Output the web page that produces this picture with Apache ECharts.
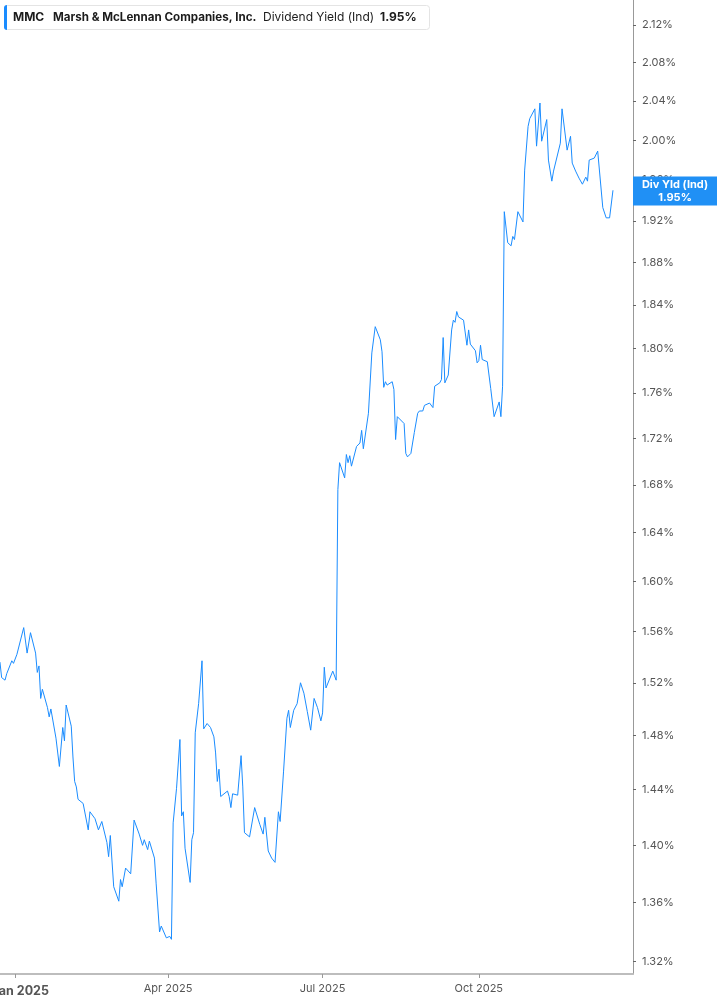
<!DOCTYPE html>
<html><head><meta charset="utf-8">
<script src="https://cdn.jsdelivr.net/npm/echarts@6/dist/echarts.min.js"></script>
<style>html,body{margin:0;padding:0;background:#fff}#c{width:717px;height:1005px}</style>
</head><body><div id="c"></div>
<script>
const dates = ['2024-12-23','2024-12-24','2024-12-26','2024-12-27','2024-12-30','2024-12-31','2025-01-02','2025-01-03','2025-01-06','2025-01-08',
'2025-01-10','2025-01-13','2025-01-14','2025-01-15','2025-01-16','2025-01-17','2025-01-20','2025-01-21','2025-01-22','2025-01-23',
'2025-01-25','2025-01-27','2025-01-29','2025-01-30','2025-01-31','2025-02-03','2025-02-04','2025-02-05','2025-02-06','2025-02-07',
'2025-02-10','2025-02-11','2025-02-13','2025-02-14','2025-02-17','2025-02-19','2025-02-21','2025-02-24','2025-02-25','2025-02-26',
'2025-02-28','2025-03-03','2025-03-04','2025-03-05','2025-03-07','2025-03-10','2025-03-12','2025-03-13','2025-03-15','2025-03-17',
'2025-03-18','2025-03-20','2025-03-21','2025-03-24','2025-03-25','2025-03-27','2025-03-28','2025-03-31','2025-04-02','2025-04-03',
'2025-04-04','2025-04-06','2025-04-08','2025-04-09','2025-04-10','2025-04-11','2025-04-14','2025-04-15','2025-04-16','2025-04-17',
'2025-04-19','2025-04-21','2025-04-22','2025-04-24','2025-04-26','2025-04-28','2025-04-29','2025-04-30','2025-05-01','2025-05-02',
'2025-05-06','2025-05-07','2025-05-08','2025-05-09','2025-05-12','2025-05-14','2025-05-15','2025-05-16','2025-05-19','2025-05-22',
'2025-05-25','2025-05-27','2025-05-28','2025-05-30','2025-06-01','2025-06-03','2025-06-05','2025-06-06','2025-06-08','2025-06-10',
'2025-06-11','2025-06-12','2025-06-14','2025-06-16','2025-06-18','2025-06-20','2025-06-22','2025-06-24','2025-06-26','2025-06-27',
'2025-06-28','2025-06-30','2025-07-01','2025-07-02','2025-07-03','2025-07-07','2025-07-08','2025-07-09','2025-07-10','2025-07-11',
'2025-07-14','2025-07-15','2025-07-16','2025-07-17','2025-07-18','2025-07-21','2025-07-22','2025-07-23','2025-07-24','2025-07-25',
'2025-07-28','2025-07-30','2025-08-01','2025-08-04','2025-08-05','2025-08-06','2025-08-07','2025-08-08','2025-08-11','2025-08-12',
'2025-08-13','2025-08-14','2025-08-18','2025-08-19','2025-08-20','2025-08-22','2025-08-24','2025-08-26','2025-08-27','2025-08-29',
'2025-08-30','2025-09-02','2025-09-03','2025-09-04','2025-09-05','2025-09-08','2025-09-09','2025-09-10','2025-09-11','2025-09-13',
'2025-09-15','2025-09-16','2025-09-17','2025-09-18','2025-09-19','2025-09-22','2025-09-24','2025-09-25','2025-09-26','2025-09-29',
'2025-09-30','2025-10-01','2025-10-02','2025-10-03','2025-10-06','2025-10-08','2025-10-10','2025-10-13','2025-10-14','2025-10-15',
'2025-10-16','2025-10-18','2025-10-20','2025-10-21','2025-10-22','2025-10-24','2025-10-27','2025-10-28','2025-10-30','2025-10-31',
'2025-11-03','2025-11-04','2025-11-06','2025-11-07','2025-11-10','2025-11-11','2025-11-13','2025-11-14','2025-11-18','2025-11-19',
'2025-11-22','2025-11-24','2025-11-25','2025-11-27','2025-11-29','2025-12-01','2025-12-03','2025-12-04','2025-12-05','2025-12-08',
'2025-12-10','2025-12-13','2025-12-15','2025-12-17','2025-12-19'];

const yields = [1.536,1.524,1.522,1.527,1.537,1.535,1.542,1.543,1.563,1.543,
1.559,1.543,1.528,1.533,1.508,1.515,1.501,1.494,1.500,1.499,
1.478,1.457,1.486,1.476,1.503,1.487,1.464,1.446,1.442,1.433,
1.430,1.429,1.411,1.424,1.419,1.411,1.417,1.402,1.392,1.407,
1.371,1.361,1.376,1.371,1.384,1.380,1.418,1.417,1.408,1.400,
1.404,1.397,1.403,1.391,1.373,1.340,1.344,1.336,1.337,1.335,
1.416,1.441,1.477,1.421,1.424,1.398,1.374,1.404,1.409,1.482,
1.504,1.537,1.485,1.489,1.486,1.479,1.467,1.446,1.455,1.435,
1.439,1.435,1.427,1.437,1.436,1.465,1.442,1.409,1.406,1.427,
1.415,1.408,1.420,1.396,1.391,1.388,1.424,1.417,1.453,1.493,
1.499,1.486,1.499,1.504,1.520,1.512,1.498,1.484,1.508,1.508,
1.501,1.491,1.497,1.532,1.516,1.529,1.529,1.522,1.676,1.699,
1.686,1.706,1.699,1.705,1.696,1.713,1.712,1.716,1.727,1.711,
1.742,1.796,1.820,1.808,1.797,1.765,1.770,1.767,1.770,1.763,
1.719,1.739,1.733,1.707,1.704,1.707,1.725,1.742,1.744,1.744,
1.749,1.751,1.752,1.747,1.766,1.769,1.772,1.810,1.769,1.776,
1.817,1.826,1.824,1.834,1.829,1.826,1.803,1.817,1.804,1.798,
1.787,1.789,1.803,1.790,1.788,1.764,1.739,1.752,1.739,1.766,
1.929,1.899,1.896,1.905,1.902,1.929,1.919,1.970,2.014,2.022,
2.032,1.994,2.038,1.999,2.021,1.980,1.959,1.969,1.997,2.032,
1.990,2.004,1.977,1.969,1.962,1.956,1.963,1.959,1.980,1.982,
1.989,1.933,1.923,1.923,1.950];

const yTicks = [1.32,1.36,1.40,1.44,1.48,1.52,1.56,1.60,1.64,1.68,1.72,1.76,1.80,1.84,1.88,1.92,1.96,2.00,2.04,2.08,2.12];
const xTickDates = ['2025-01-01','2025-04-01','2025-07-01','2025-10-01'];
const xTickLabels = ['Jan 2025','Apr 2025','Jul 2025','Oct 2025'];
const ticker = 'MMC';
const company = 'Marsh & McLennan Companies, Inc.';
const metric = 'Dividend Yield (Ind)';
const shortMetric = 'Div Yld (Ind)';
const lastYield = 1.95;
const yRange = [1.3118, 2.147];
const xRange = ['2024-12-23T01:00:00', '2025-12-30T19:00:00'];

const ts = s => new Date(s.length === 10 ? s + 'T00:00:00' : s).getTime();
const xTickTs = xTickDates.map(ts);
const lineData = dates.map((d, i) => [ts(d), Math.log(yields[i])]);
const yTickLog = yTicks.map(Math.log);
const BLUE = '#1a8cff';
const FONT = 'Inter';

const chart = echarts.init(document.getElementById('c'), null, {renderer: 'canvas'});
chart.setOption({
  animation: false,
  backgroundColor: '#fff',
  title: {
    left: 4, top: 5, padding: [0, 5, 0, 0],
    borderColor: '#e4e4e4', borderWidth: 1, borderRadius: 3,
    backgroundColor: '#fff',
    text: '{bar| }{sp| }{t|' + ticker + '}{n|' + company + '}{d|' + metric + '}{v|' + lastYield.toFixed(2) + '%}{sp2| }',
    textStyle: {
      fontFamily: FONT,
      rich: {
        bar: {width: 3, height: 25, backgroundColor: BLUE, borderRadius: [3, 0, 0, 3]},
        sp: {width: 6, height: 25},
        t: {width: 40, fontSize: 12, fontWeight: 'bold', color: '#1c1c1c', fontFamily: FONT, lineHeight: 25},
        n: {width: 210, fontSize: 11.6, fontWeight: 'bold', color: '#1c1c1c', fontFamily: FONT, lineHeight: 25},
        d: {width: 117, fontSize: 12, fontWeight: 'normal', color: '#1c1c1c', fontFamily: FONT, lineHeight: 25},
        v: {width: 40, fontSize: 12, fontWeight: 'bold', color: '#1c1c1c', fontFamily: FONT, lineHeight: 25},
        sp2: {width: 9, height: 25}
      }
    }
  },
  grid: {left: 0, right: 84, top: 0, bottom: 31, containLabel: false, outerBoundsMode: 'none'},
  xAxis: {
    type: 'value',
    min: ts(xRange[0]), max: ts(xRange[1]),
    axisLine: {onZero: false, lineStyle: {color: '#bdbdbd', width: 2}},
    axisTick: {show: true, customValues: xTickTs, length: 4, lineStyle: {color: '#999'}},
    axisLabel: {
      customValues: xTickTs,
      margin: 9,
      color: '#555', fontSize: 11, fontFamily: FONT,
      formatter: function (v) {
        const i = xTickTs.findIndex(t => Math.abs(t - v) < 864e5);
        const lab = i >= 0 ? xTickLabels[i] : '';
        return i === 0 ? '{b|' + lab + '}' : lab;
      },
      rich: {b: {fontSize: 12.5, fontWeight: 'bold', color: '#555', fontFamily: FONT, padding: [2, 0, 0, 10]}}
    },
    splitLine: {show: false}
  },
  yAxis: {
    type: 'value',
    position: 'right',
    min: Math.log(yRange[0]), max: Math.log(yRange[1]),
    axisLine: {show: true, onZero: false, lineStyle: {color: '#999', width: 1}},
    axisTick: {show: true, customValues: yTickLog, length: 3, lineStyle: {color: '#666'}},
    axisLabel: {
      customValues: yTickLog,
      margin: 9, color: '#555', fontSize: 11, fontFamily: FONT,
      formatter: v => Math.exp(v).toFixed(2) + '%'
    },
    splitLine: {show: false}
  },
  series: [{
    type: 'line',
    data: lineData,
    showSymbol: false,
    symbol: 'none',
    lineStyle: {color: BLUE, width: 1},
    clip: true,
    markLine: {
      silent: true,
      symbol: 'none',
      animation: false,
      lineStyle: {color: 'rgba(0,0,0,0)', width: 1, opacity: 1, type: 'solid'},
      data: [{yAxis: Math.log(lastYield)}],
      label: {
        show: true,
        position: 'end',
        distance: 0,
        offset: [0, 5],
        verticalAlign: 'middle',
        fontSize: 11,
        lineHeight: 12.5,
        backgroundColor: '#2090f5',
        padding: [2, 0],
        formatter: '{a|' + shortMetric + '}\n{a|' + lastYield.toFixed(2) + '%}',
        rich: {a: {width: 84, align: 'center', color: '#fff', fontWeight: 'bold', fontSize: 11, lineHeight: 12.5, fontFamily: FONT}}
      }
    }
  }]
});
</script>
</body></html>
